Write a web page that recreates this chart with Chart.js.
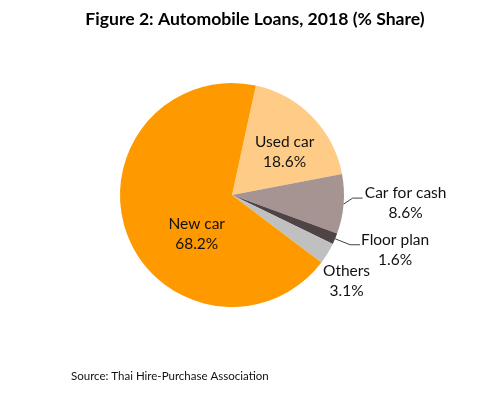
<!DOCTYPE html>
<html>
<head>
<meta charset="utf-8">
<script src="https://cdn.jsdelivr.net/npm/chart.js@4"></script>
<style>
html,body{margin:0;padding:0;background:#fff;}
#wrap{width:489px;height:398px;position:relative;}
</style>
</head>
<body>
<div id="wrap"><canvas id="c" width="489" height="398"></canvas></div>
<script>
const categories = ["Used car", "Car for cash", "Floor plan", "Others", "New car"];
const shares = [18.6, 8.6, 1.6, 3.1, 68.2];
const valueLabels = ["18.6%", "8.6%", "1.6%", "3.1%", "68.2%"];
const titleText = "Figure 2: Automobile Loans, 2018 (% Share)";
const sourceText = "Source: Thai Hire-Purchase Association";

const colors = ["#FFCC88", "#A69492", "#4E4345", "#C0C0C0", "#FF9900"];
const FONT = "Lato, 'Open Sans', sans-serif";

// label layout per slice (style only)
const labelLayout = [
  {type: "inside", fx: 0.47, fy: -0.385},
  {type: "outside", elbow: [9, -6], end: [19, -6], text: [62, -1]},
  {type: "outside", elbow: [15, 6], end: [25, 6], text: [60, 11]},
  {type: "outside", elbow: null, text: [19, 28]},
  {type: "inside", fx: -0.315, fy: 0.35}
];

const labelPlugin = {
  id: "labels",
  afterDraw(chart) {
    const ctx = chart.ctx;
    ctx.save();
    // title
    ctx.fillStyle = "#000";
    ctx.font = "bold 17.6px " + FONT;
    ctx.textAlign = "center";
    ctx.textBaseline = "alphabetic";
    ctx.fillText(titleText, 255, 25);
    // source
    ctx.font = "11.5px " + FONT;
    ctx.textAlign = "left";
    ctx.fillStyle = "#111";
    ctx.fillText(sourceText, 71, 380);

    const meta = chart.getDatasetMeta(0);
    ctx.font = "15.5px " + FONT;
    ctx.textAlign = "center";
    ctx.textBaseline = "middle";
    meta.data.forEach((arc, i) => {
      const p = arc.getProps(["x", "y", "startAngle", "endAngle", "outerRadius"], true);
      const r = p.outerRadius;
      const mid = (p.startAngle + p.endAngle) / 2;
      const L = labelLayout[i];
      let tx, ty;
      if (L.type === "inside") {
        tx = p.x + L.fx * r;
        ty = p.y + L.fy * r;
      } else {
        const ex = p.x + Math.cos(mid) * r;
        const ey = p.y + Math.sin(mid) * r;
        if (L.elbow) {
          ctx.strokeStyle = "#404040";
          ctx.lineWidth = 1;
          ctx.beginPath();
          ctx.moveTo(ex, ey);
          ctx.lineTo(ex + L.elbow[0], ey + L.elbow[1]);
          ctx.lineTo(ex + L.end[0], ey + L.end[1]);
          ctx.stroke();
        }
        tx = ex + L.text[0];
        ty = ey + L.text[1];
      }
      ctx.fillStyle = "#111";
      ctx.fillText(categories[i], tx, ty - 10);
      ctx.fillText(valueLabels[i], tx, ty + 10);
    });
    ctx.restore();
  }
};

new Chart(document.getElementById("c"), {
  type: "pie",
  data: {
    labels: categories,
    datasets: [{
      data: shares,
      backgroundColor: colors,
      borderWidth: 0
    }]
  },
  options: {
    responsive: false,
    animation: false,
    rotation: 12.3,
    layout: {padding: {left: 120, right: 145, top: 83, bottom: 91}},
    plugins: {
      legend: {display: false},
      title: {display: false},
      tooltip: {enabled: false}
    }
  },
  plugins: [labelPlugin]
});
</script>
</body>
</html>
